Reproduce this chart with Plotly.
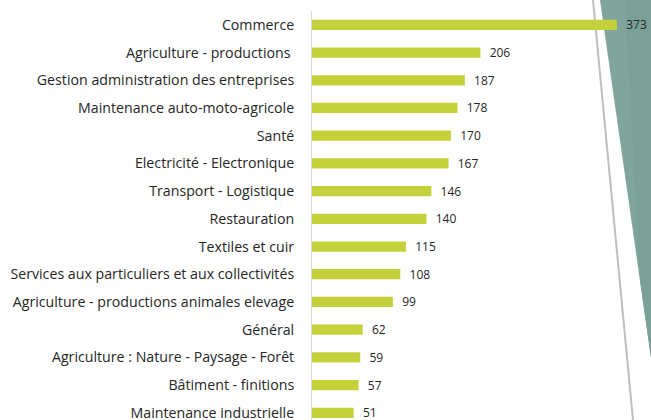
import plotly.graph_objects as go

categories = [
    "Commerce",
    "Agriculture - productions ",
    "Gestion administration des entreprises",
    "Maintenance auto-moto-agricole",
    "Santé",
    "Electricité - Electronique",
    "Transport - Logistique",
    "Restauration",
    "Textiles et cuir",
    "Services aux particuliers et aux collectivités",
    "Agriculture - productions animales elevage",
    "Général",
    "Agriculture : Nature - Paysage - Forêt",
    "Bâtiment - finitions",
    "Maintenance industrielle",
]
values = [373, 206, 187, 178, 170, 167, 146, 140, 115, 108, 99, 62, 59, 57, 51]

BAR = "#C5D13B"
TEAL = "#7FA59D"
FONT = "Open Sans"

# plot area in pixels: x 312..639, y 11..420
L, T, W, H = 312, 11, 327, 409


def px(x):
    return (x - L) / W


def py(y):
    return (T + H - y) / H


fig = go.Figure(go.Bar(
    x=values, y=categories, orientation="h",
    marker=dict(color=BAR, line=dict(width=0)),
    width=0.37,
    text=[f"  {v}" for v in values],
    textposition="outside", cliponaxis=False, constraintext="none",
    textfont=dict(family=FONT, size=12, color="#262626"),
))

teal = (f"M {px(600)},{py(0)} L {px(651)},{py(0)} "
        f"L {px(651)},{py(358)} Z")
teal_dark = (f"M {px(625)},{py(0)} L {px(651)},{py(0)} "
             f"L {px(651)},{py(358)} L {px(640)},{py(280)} Z")

fig.update_layout(
    width=651, height=420,
    margin=dict(l=L, r=651 - L - W, t=T, b=0, autoexpand=False),
    paper_bgcolor="white", plot_bgcolor="rgba(0,0,0,0)",
    showlegend=False,
    font=dict(family=FONT, size=14.2, color="#262626"),
    xaxis=dict(range=[0, 400], visible=False, automargin=False),
    yaxis=dict(
        categoryorder="array", categoryarray=categories,
        range=[14.26, -0.5], automargin=False,
        showline=True, linecolor="#D9D9D9", linewidth=1,
        ticks="outside", ticklen=14, tickcolor="rgba(0,0,0,0)",
        showgrid=False, tickfont=dict(family=FONT, size=14.2, color="#262626"),
    ),
    shapes=[
        dict(type="path", xref="paper", yref="paper", path=teal,
             fillcolor=TEAL, line=dict(width=0), layer="below"),
        dict(type="path", xref="paper", yref="paper", path=teal_dark,
             fillcolor="#7AA098", line=dict(width=0), layer="below"),
        dict(type="line", xref="paper", yref="paper",
             x0=px(593), y0=py(0), x1=px(633), y1=py(420),
             line=dict(color="#BFBFBF", width=2), layer="below"),
    ],
)

# the page body has a default 8px margin; drop it so the figure sits at 0,0
fig.write_html("out.html", config={"displayModeBar": False},
               post_script="document.body.style.margin='0';")
